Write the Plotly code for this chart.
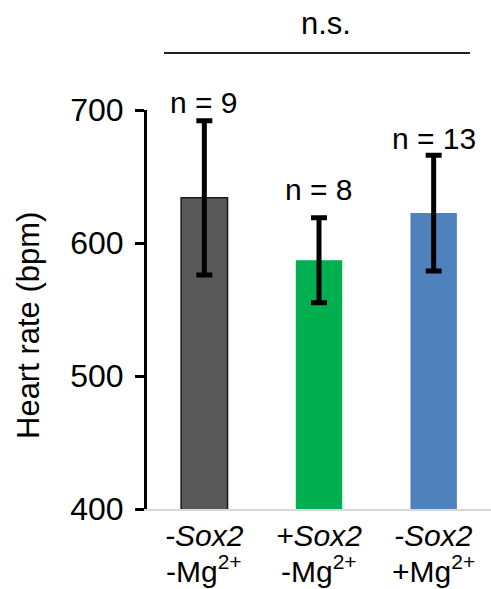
import plotly.graph_objects as go

categories = ["-Sox2 -Mg", "+Sox2 -Mg", "-Sox2 +Mg"]
label_line1 = ["<i>-Sox2</i>", "<i>+Sox2</i>", "<i>-Sox2</i>"]
label_line2 = ["-Mg<sup>2+</sup>", "-Mg<sup>2+</sup>", "+Mg<sup>2+</sup>"]
means = [634, 587, 622.5]
errors = [58, 32, 43.5]
n_labels = ["n = 9", "n = 8", "n = 13"]
colors = ["#595959", "#00b050", "#4f81bd"]
y_ticks = [400, 500, 600, 700]
y_title = "Heart rate (bpm)"

FONT = "Liberation Sans, Arial, sans-serif"
PLOT_H = 399  # plot area height in px
PLOT_W = 344

fig = go.Figure()
fig.add_trace(go.Bar(
    x=categories, y=means,
    marker=dict(color=colors, line=dict(color=["#1a1a1a", colors[1], colors[2]], width=[1.5, 0, 0])),
    error_y=dict(type="data", array=errors, visible=True, color="black", thickness=5, width=8),
    showlegend=False,
))

shifts = [18, 28, 17]
for c, m, e, t, s in zip(categories, means, errors, n_labels, shifts):
    fig.add_annotation(x=c, y=m + e, text=t, showarrow=False, yanchor="middle",
                       yshift=s, font=dict(size=30, color="black", family=FONT))

# two-line category labels
for c, l1, l2 in zip(categories, label_line1, label_line2):
    fig.add_annotation(x=c, y=-(535 - 509) / PLOT_H, yref="paper", text=l1, showarrow=False,
                       yanchor="middle", font=dict(size=30, color="black", family=FONT))
    fig.add_annotation(x=c, y=-(569 - 509) / PLOT_H, yref="paper", text=l2, showarrow=False,
                       yanchor="middle", font=dict(size=30, color="black", family=FONT))

# y-axis title
fig.add_annotation(x=(28 - 147) / PLOT_W, xref="paper", y=(509 - 326) / PLOT_H, yref="paper",
                   text=y_title, textangle=-90, showarrow=False, xanchor="center",
                   yanchor="middle", font=dict(size=31, color="black", family=FONT))

fig.add_annotation(x=0.52, xref="paper", y=1 + (110 - 24) / PLOT_H, yref="paper", yanchor="middle",
                   xanchor="center", text="n.s.", showarrow=False,
                   font=dict(size=31, color="black", family=FONT))
fig.add_shape(type="line", xref="paper", yref="paper",
              x0=(164 - 147) / PLOT_W, x1=(470 - 147) / PLOT_W,
              y0=1 + (110 - 53) / PLOT_H, y1=1 + (110 - 53) / PLOT_H,
              line=dict(color="#222222", width=2))

fig.update_layout(
    width=491, height=589,
    margin=dict(l=147, r=0, t=110, b=80),
    plot_bgcolor="white", paper_bgcolor="white",
    bargap=0.595,
    font=dict(family=FONT, color="black", size=32),
    xaxis=dict(showline=True, linecolor="#d9d9d9", linewidth=2, ticks="",
               automargin=False, showticklabels=False,
               showgrid=False, zeroline=False),
    yaxis=dict(range=[400, 700], tickvals=y_ticks, showline=True, linecolor="black",
               linewidth=3, ticks="outside", ticklen=9, tickwidth=3, tickcolor="black",
               ticklabelstandoff=5, showgrid=False, zeroline=False, automargin=False,
               tickfont=dict(size=32, color="black", family=FONT)),
)

fig.write_html("out.html")
